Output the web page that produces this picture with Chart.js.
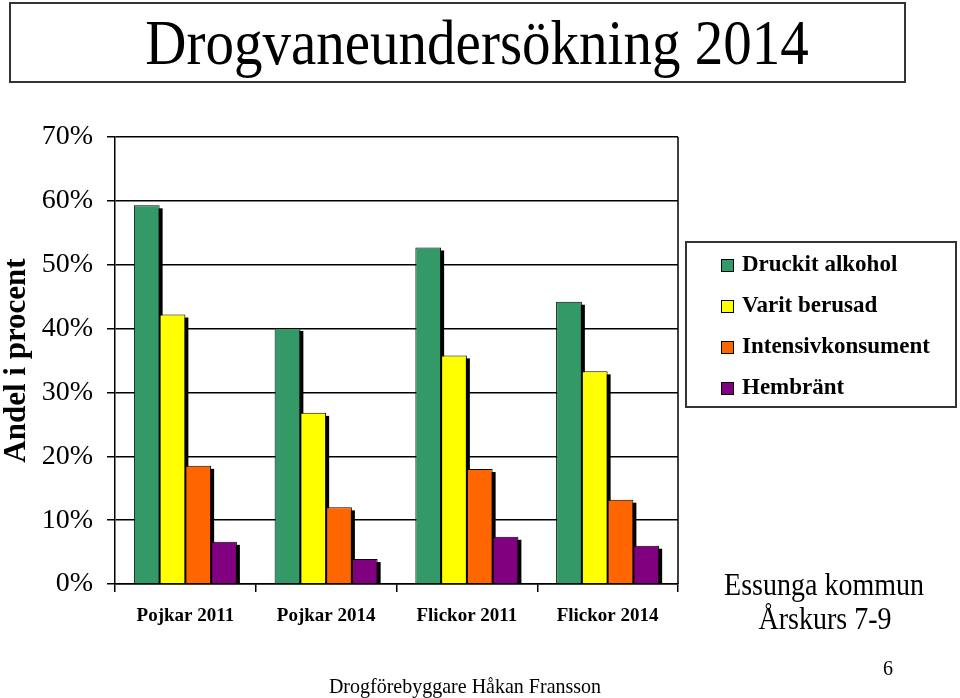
<!DOCTYPE html>
<html>
<head>
<meta charset="utf-8">
<script src="https://cdn.jsdelivr.net/npm/chart.js@4.4.1/dist/chart.umd.min.js"></script>
<style>
  html, body { margin: 0; padding: 0; background: #fff; }
  body { width: 960px; height: 698px; position: relative; overflow: hidden; font-family: 'Liberation Serif', 'Times New Roman', serif; color: #000; }
  #wrap { position: absolute; left: 0; top: 0; width: 960px; height: 698px; }
  .t { position: absolute; white-space: nowrap; transform: translate(-50%, -50%) scaleY(1.1); line-height: 1; }
  #titleBox { position: absolute; left: 9px; top: 2px; width: 893px; height: 77px; border: 2px solid #333; box-sizing: content-box; }
  #legend { position: absolute; left: 685px; top: 241px; width: 268px; height: 163px; border: 2px solid #333; }
  .li { position: absolute; left: 34px; height: 24px; font-weight: bold; font-size: 23px; line-height: 24px; }
  .li span.sw { position: absolute; left: 0; top: 7px; width: 11px; height: 11px; border: 1px solid #000; }
  .li span.tx { position: absolute; left: 21px; top: 0; white-space: nowrap; }
</style>
</head>
<body>
<div id="wrap"><canvas id="chart" width="960" height="698"></canvas></div>
<div id="titleBox"></div>
<div class="t" style="left:477px; top:43px; font-size:57px;">Drogvaneundersökning 2014</div>
<div id="legend"></div>
<div class="t" style="left:824px; top:585px; font-size:28px;">Essunga kommun</div>
<div class="t" style="left:825px; top:619px; font-size:28px;">Årskurs 7-9</div>
<div class="t" style="left:465px; top:685px; font-size:20px;">Drogförebyggare Håkan Fransson</div>
<div class="t" style="left:888px; top:667px; font-size:20px;">6</div>
<script>
const categories = ['Pojkar 2011', 'Pojkar 2014', 'Flickor 2011', 'Flickor 2014'];
const seriesNames = ['Druckit alkohol', 'Varit berusad', 'Intensivkonsument', 'Hembränt'];
const druckitAlkohol = [59.3, 40.1, 52.7, 44.2];
const varitBerusad = [42.2, 26.8, 35.8, 33.3];
const intensivkonsument = [18.5, 12.0, 18.0, 13.2];
const hembrant = [6.6, 3.9, 7.4, 6.0];
const seriesColors = ['#339966', '#FFFF00', '#FF6600', '#800080'];
const yTicks = [0, 10, 20, 30, 40, 50, 60, 70];

const seriesValues = [druckitAlkohol, varitBerusad, intensivkonsument, hembrant];

// legend
const legend = document.getElementById('legend');
seriesNames.forEach((name, i) => {
    const row = document.createElement('div');
    row.className = 'li';
    row.style.top = (9 + i * 41) + 'px';
    row.innerHTML = '<span class="sw" style="background:' + seriesColors[i] + '"></span><span class="tx"></span>';
    row.querySelector('.tx').textContent = name;
    legend.appendChild(row);
});

// black drop shadow behind each bar
const barShadow = {
    id: 'barShadow',
    beforeDatasetsDraw(chart) {
        const ctx = chart.ctx;
        const area = chart.chartArea;
        ctx.save();
        ctx.beginPath();
        ctx.rect(area.left, area.top, area.right - area.left, area.bottom - area.top);
        ctx.clip();
        ctx.fillStyle = '#000';
        chart.data.datasets.forEach((ds, di) => {
            chart.getDatasetMeta(di).data.forEach(bar => {
                const p = bar.getProps(['x', 'y', 'base', 'width'], true);
                ctx.fillRect(p.x - p.width / 2 + 3, p.y + 3, p.width, p.base - p.y);
            });
        });
        ctx.restore();
    },
    afterDraw(chart) {
        const ctx = chart.ctx;
        const area = chart.chartArea;
        ctx.save();
        ctx.strokeStyle = '#000';
        ctx.lineWidth = 1.5;
        ctx.beginPath();
        ctx.moveTo(area.right, area.top);
        ctx.lineTo(area.right, area.bottom);
        ctx.stroke();
        ctx.restore();
    }
};

new Chart(document.getElementById('chart').getContext('2d'), {
    type: 'bar',
    data: {
        labels: categories,
        datasets: seriesNames.map((name, i) => ({
            label: name,
            data: seriesValues[i],
            backgroundColor: seriesColors[i],
            borderColor: '#000',
            borderWidth: 1,
            barPercentage: 1,
            categoryPercentage: 0.732
        }))
    },
    options: {
        responsive: false,
        animation: false,
        layout: { padding: { left: 0, top: 137, right: 282, bottom: 0 } },
        plugins: {
            legend: { display: false },
            tooltip: { enabled: false }
        },
        scales: {
            y: {
                min: 0,
                max: 70,
                afterFit: s => { s.width = 115; },
                afterBuildTicks: s => { s.ticks = yTicks.map(v => ({ value: v })); },
                ticks: {
                    color: '#000',
                    padding: 14,
                    font: { family: 'Liberation Serif', size: 28 },
                    callback: v => v + '%'
                },
                grid: { color: '#000', lineWidth: 1.5, tickLength: 8 },
                border: { display: true, color: '#000', width: 1.5 },
                title: {
                    display: true,
                    text: 'Andel i procent',
                    color: '#000',
                    padding: { top: -2, bottom: 0 },
                    font: { family: 'Liberation Serif', size: 31, weight: 'bold' }
                }
            },
            x: {
                afterFit: s => { s.height = 114; },
                ticks: {
                    color: '#000',
                    padding: 13,
                    font: { family: 'Liberation Serif', size: 19, weight: 'bold' }
                },
                grid: { display: true, drawOnChartArea: false, offset: true, color: '#000', lineWidth: 1.5, tickLength: 8 },
                border: { display: true, color: '#000', width: 1.5 }
            }
        }
    },
    plugins: [barShadow]
});
</script>
</body>
</html>
